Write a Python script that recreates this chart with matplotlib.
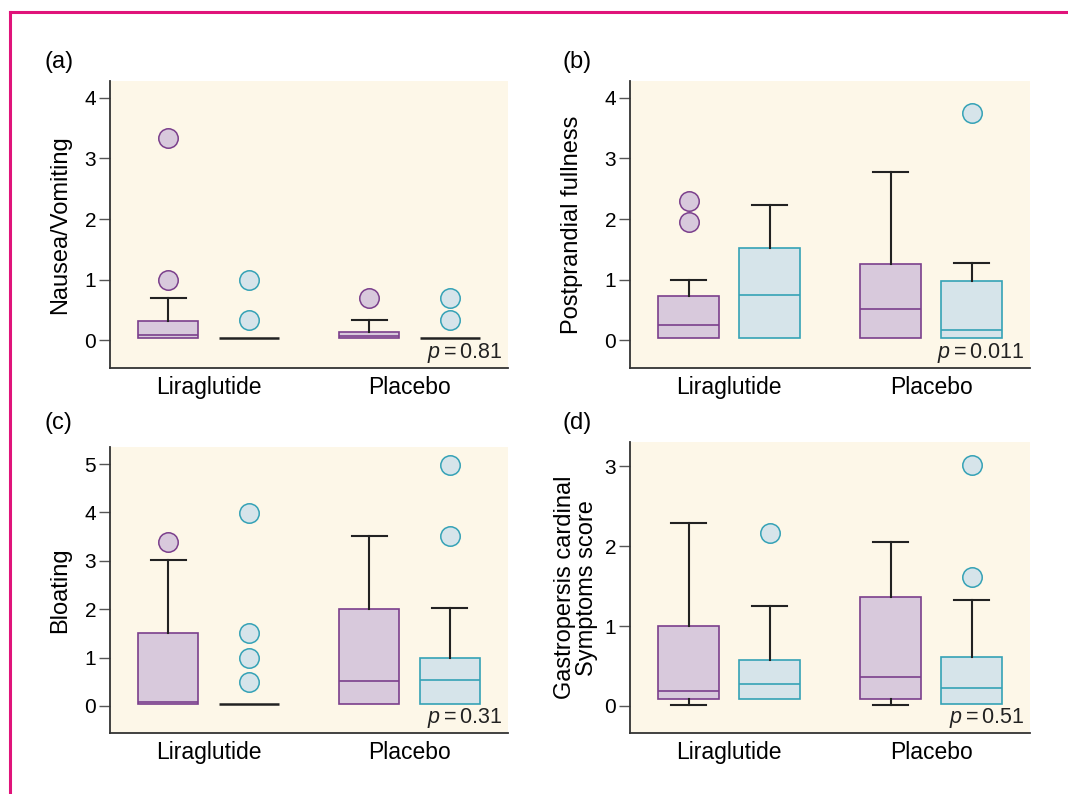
import matplotlib

matplotlib.use("Agg")
import matplotlib.pyplot as plt
from matplotlib.lines import Line2D

plt.rcParams["font.family"] = ["Liberation Sans", "DejaVu Sans"]
plt.rcParams["mathtext.fontset"] = "custom"
plt.rcParams["mathtext.rm"] = "Liberation Sans"
plt.rcParams["mathtext.it"] = "Liberation Sans:italic"

GROUPS = ["Liraglutide", "Placebo"]

# box stats: (whislo, q1, med, q3, whishi, fliers)
# order: Liraglutide-purple, Liraglutide-blue, Placebo-purple, Placebo-blue
nausea = [
    (0.03, 0.03, 0.08, 0.32, 0.69, [1.0, 3.34]),
    (0.03, 0.03, 0.03, 0.03, 0.03, [0.34, 1.0]),
    (0.03, 0.03, 0.07, 0.14, 0.34, [0.69]),
    (0.03, 0.03, 0.03, 0.03, 0.03, [0.34, 0.69]),
]
fullness = [
    (0.03, 0.03, 0.25, 0.73, 1.0, [1.95, 2.30]),
    (0.03, 0.03, 0.74, 1.52, 2.24, []),
    (0.03, 0.03, 0.51, 1.25, 2.77, []),
    (0.03, 0.03, 0.16, 0.98, 1.27, [3.75]),
]
bloating = [
    (0.035, 0.035, 0.09, 1.50, 3.01, [3.39]),
    (0.03, 0.03, 0.03, 0.03, 0.03, [0.50, 1.0, 1.50, 3.99]),
    (0.03, 0.03, 0.52, 2.0, 3.51, []),
    (0.03, 0.03, 0.53, 1.0, 2.02, [3.51, 4.98]),
]
gcsi = [
    (0.01, 0.09, 0.19, 1.0, 2.29, []),
    (0.09, 0.09, 0.28, 0.575, 1.25, [2.16]),
    (0.01, 0.09, 0.36, 1.37, 2.05, []),
    (0.02, 0.02, 0.22, 0.61, 1.32, [1.61, 3.02]),
]

PANELS = [
    ("(a)", "Nausea/Vomiting", nausea, "0.81", (-0.46, 4.28), [0, 1, 2, 3, 4]),
    ("(b)", "Postprandial fullness", fullness, "0.011", (-0.46, 4.28), [0, 1, 2, 3, 4]),
    ("(c)", "Bloating", bloating, "0.31", (-0.56, 5.35), [0, 1, 2, 3, 4, 5]),
    ("(d)", "Gastropersis cardinal\nSymptoms score", gcsi, "0.51", (-0.34, 3.3), [0, 1, 2, 3]),
]

BG = "#fdf7e8"
FILL = ["#d8c9dc", "#d6e4ea"]
EDGE = ["#7b3f8c", "#35a2b6"]
POS = [0.8, 1.2, 1.8, 2.2]

fig = plt.figure(figsize=(10.68, 7.94), dpi=100)

# magenta frame at top and left
fig.add_artist(Line2D([10 / 1068, 1], [1 - 12 / 794] * 2, color="#e0137a", lw=2.2))
fig.add_artist(Line2D([10 / 1068] * 2, [0, 1 - 12 / 794], color="#e0137a", lw=2.2))

rects = [
    [0.103, 0.5365, 0.3727, 0.3615],
    [0.590, 0.5365, 0.3745, 0.3615],
    [0.103, 0.0768, 0.3727, 0.360],
    [0.590, 0.0768, 0.3745, 0.366],
]
label_xy = [(45, 62), (562, 62), (45, 423), (562, 423)]
ylab_right = [71, 583, 71, 598]  # right edge of the rotated y label, px

for i, (tag, ylabel, stats, pval, ylim, yticks) in enumerate(PANELS):
    ax = fig.add_axes(rects[i])
    ax.set_facecolor(BG)
    for k, (lo, q1, med, q3, hi, fl) in enumerate(stats):
        st = dict(whislo=lo, q1=q1, med=med, q3=q3, whishi=hi, fliers=fl)
        c = k % 2
        flat = q1 == q3
        art = ax.bxp(
            [st], positions=[POS[k]], widths=0.3, capwidths=0.175,
            patch_artist=True, showfliers=True,
            boxprops=dict(facecolor=FILL[c], edgecolor=EDGE[c], lw=1.2),
            medianprops=dict(color="#222222" if flat else EDGE[c], lw=1.8 if flat else 1.2),
            whiskerprops=dict(color="#222222", lw=1.5),
            capprops=dict(color="#222222", lw=1.5),
            flierprops=dict(marker="o", markersize=14, markerfacecolor=FILL[c],
                            markeredgecolor=EDGE[c], markeredgewidth=1.1, linestyle="none"),
        )
        if flat:
            art["boxes"][0].set_visible(False)
        # hide caps/whiskers that collapse onto the box
        if lo >= q1:
            art["caps"][0].set_visible(False)
            art["whiskers"][0].set_visible(False)
        if hi <= q3:
            art["caps"][1].set_visible(False)
            art["whiskers"][1].set_visible(False)

    ax.set_xlim(0.51, 2.49)
    ax.set_ylim(*ylim)
    ax.set_xticks([1, 2])
    ax.set_xticklabels(GROUPS, fontsize=16.5)
    ax.tick_params(axis="x", length=0, pad=6)
    ax.set_yticks(yticks)
    ax.tick_params(axis="y", labelsize=15, length=8, width=1, color="#555555", pad=2)
    for side in ("top", "right"):
        ax.spines[side].set_visible(False)
    for side in ("left", "bottom"):
        ax.spines[side].set_color("#333333")
        ax.spines[side].set_linewidth(1.3)

    ax.text(0.985, 0.012, r"$p=%s$" % pval, transform=ax.transAxes,
            ha="right", va="bottom", fontsize=15.5, color="#222222")

    ax.set_ylabel(ylabel, fontsize=17, linespacing=1.0)
    ax.yaxis.set_label_coords((ylab_right[i] / 1068 - rects[i][0]) / rects[i][2], 0.5)

    fig.text(label_xy[i][0] / 1068, 1 - label_xy[i][1] / 794, tag,
             ha="left", va="center", fontsize=17)

fig.savefig("out.png", dpi=100)
